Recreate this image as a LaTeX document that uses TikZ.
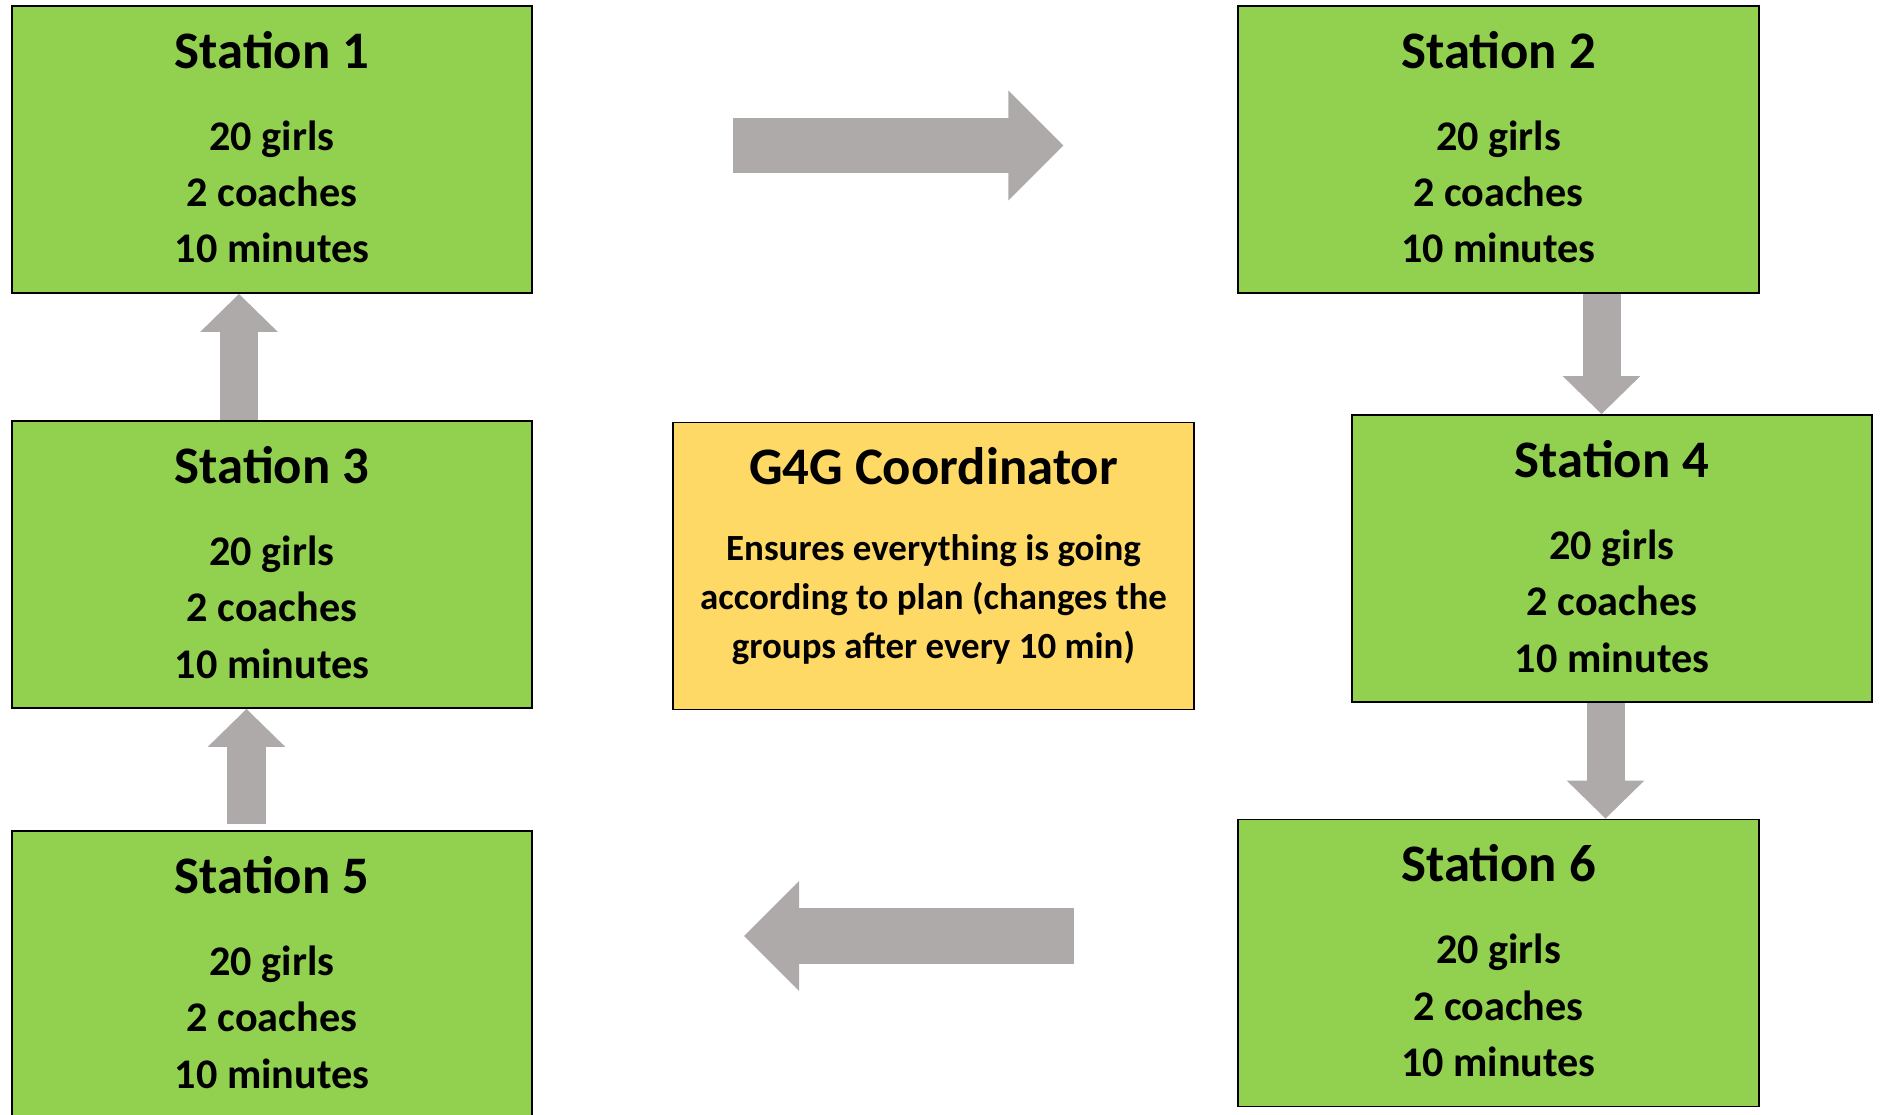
\documentclass[tikz,border=0pt]{standalone}
\usepackage{fontspec}
\setmainfont{Carlito}
\usetikzlibrary{arrows.meta,calc}
\definecolor{station_green}{RGB}{146,208,80}
\definecolor{coord_yellow}{RGB}{255,217,102}
\definecolor{arrow_gray}{RGB}{174,170,170}
\newcommand{\stationtxt}[1]{% #1 = number of the station
  {\fontsize{15}{18}\selectfont Station #1}\\[7.4pt]
  20 girls\\ 2 coaches\\ 10 minutes\rule[-1.4pt]{0pt}{1.4pt}}

\begin{document}
\begin{tikzpicture}[x=0.01cm, y=0.01cm,
    station/.style={draw=black, line width=0.5pt, fill=station_green,
      minimum width=5.2cm, minimum height=2.87cm, align=center,
      inner sep=0pt, font=\fontsize{12}{16}\selectfont\bfseries},
    coordbox/.style={station, fill=coord_yellow,
      font=\fontsize{10.5}{14}\selectfont\bfseries},
    widearrow/.style={draw=arrow_gray, line width=0.55cm,
      -{Triangle[length=0.55cm, width=1.09cm, line width=1pt]}},
    slimarrow/.style={draw=arrow_gray, line width=0.38cm,
      -{Triangle[length=0.38cm, width=0.77cm, line width=1pt]}}]
  \useasboundingbox (0,0) rectangle (1885,1114);
  \clip (0,0) rectangle (1885,1114);
  % stations
  \node[station] (s1) at (272,964.5) {\stationtxt{1}};
  \node[station] (s2) at (1498.5,964.5) {\stationtxt{2}};
  \node[station] (s3) at (272,549.5) {\stationtxt{3}};
  \node[station] (s4) at (1612,555.5) {\stationtxt{4}};
  \node[station] (s5) at (272,139.5) {\stationtxt{5}};
  \node[station] (s6) at (1498.5,151) {\stationtxt{6}};
  % coordinator
  \node[coordbox] (g4g) at (933.5,548)
    {{\fontsize{15}{18}\selectfont G4G Coordinator}\\[7.5pt]
     Ensures everything is going\\ according to plan (changes the\\
     groups after every 10 min)\rule[-7.2pt]{0pt}{7.2pt}};
  % rotation arrows
  \coordinate (r1) at ($(s1.east)+(200,4)$);
  \coordinate (r2) at ($(s2.west)+(-174,4)$);
  \draw[widearrow] (r1) -- (r2);
  \coordinate (l1) at ($(s6.west)+(-163,27)$);
  \coordinate (l2) at ($(s5.east)+(211,38.5)$);
  \draw[widearrow] (l1) -- (l2);
  \coordinate (d24) at ($(s2.south)+(103,0)$);
  \draw[slimarrow] (d24) -- (d24 |- s4.north);
  \coordinate (d46) at ($(s4.south)+(-6.5,0)$);
  \draw[slimarrow] (d46) -- (d46 |- s6.north);
  \coordinate (u53) at ($(s5.north)+(-25.5,6)$);
  \draw[slimarrow] (u53) -- (u53 |- s3.south);
  \coordinate (u31) at ($(s3.north)+(-33,0)$);
  \draw[slimarrow] (u31) -- (u31 |- s1.south);
\end{tikzpicture}
\end{document}
